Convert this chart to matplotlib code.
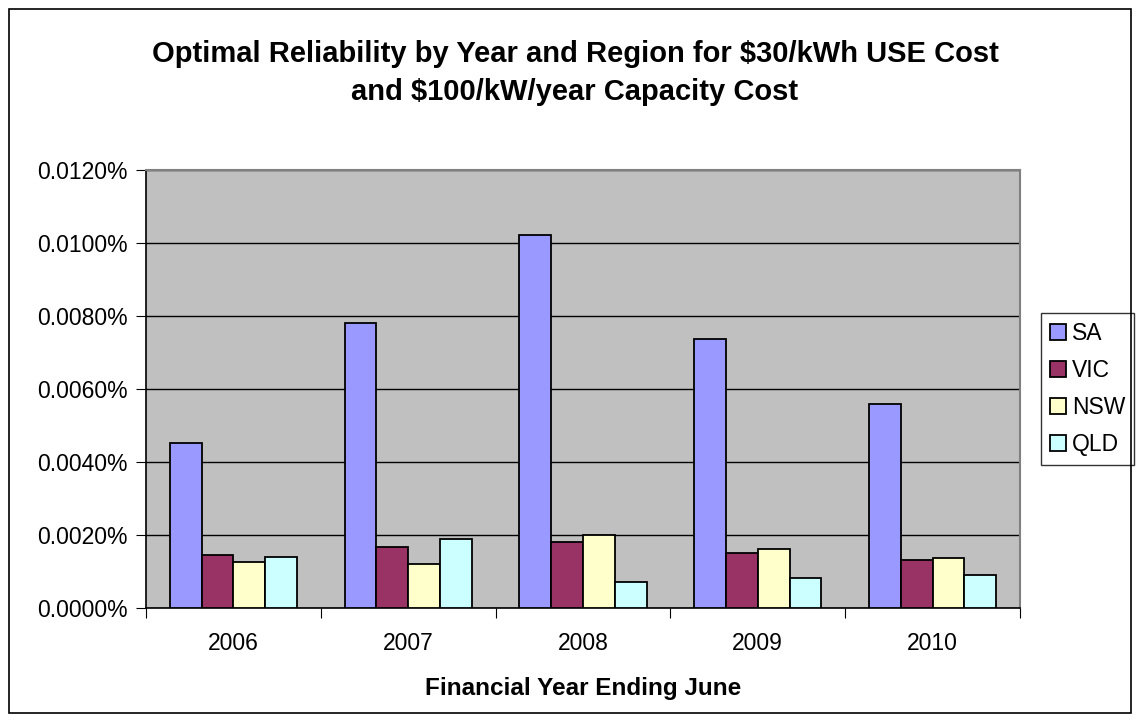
import numpy as np
import matplotlib
matplotlib.use("Agg")
import matplotlib.pyplot as plt
from matplotlib.patches import Rectangle
from matplotlib.ticker import FuncFormatter

plt.rcParams['font.family'] = ['Liberation Sans', 'DejaVu Sans']

years = ['2006', '2007', '2008', '2009', '2010']
regions = ['SA', 'VIC', 'NSW', 'QLD']
# values in percent
sa = [0.00451, 0.00782, 0.01021, 0.00737, 0.00558]
vic = [0.00146, 0.00167, 0.00181, 0.00151, 0.00131]
nsw = [0.00126, 0.00120, 0.00201, 0.00162, 0.00137]
qld = [0.00141, 0.00188, 0.00070, 0.00081, 0.00091]
colors = ['#9999FF', '#993366', '#FFFFCC', '#CCFFFF']

fig = plt.figure(figsize=(11.4, 7.22), dpi=100)
ax = fig.add_axes([146 / 1140, 1 - 608 / 722, (1020 - 146) / 1140, (608 - 170) / 722])
ax.set_facecolor('#C0C0C0')

x = np.arange(len(years))
w = 1 / 5.5
for i, (vals, name) in enumerate(zip([sa, vic, nsw, qld], regions)):
    ax.bar(x + (i - 1.5) * w, vals, width=w, color=colors[i], edgecolor='black',
           linewidth=1.3, label=name, zorder=3)

ax.set_ylim(0, 0.012)
ax.set_yticks(np.arange(0, 0.0121, 0.002))
ax.yaxis.set_major_formatter(FuncFormatter(lambda v, p: '%.4f%%' % v))
ax.grid(axis='y', color='black', linewidth=1, zorder=1)
ax.set_axisbelow(True)

ax.set_xlim(-0.5, 4.5)
ax.set_xticks(np.arange(-0.5, 4.6, 1))
ax.set_xticklabels([])
ax.set_xticks(x, minor=True)
ax.set_xticklabels(years, minor=True)
ax.tick_params(axis='x', which='minor', length=0, pad=17, labelsize=16.5)
ax.tick_params(axis='x', which='major', length=7, direction='out', color='black')
ax.tick_params(axis='y', length=7, direction='out', labelsize=16.5, pad=6)

for s in ['top', 'right']:
    ax.spines[s].set_color('#808080')
    ax.spines[s].set_linewidth(1.5)
for s in ['left', 'bottom']:
    ax.spines[s].set_color('black')
    ax.spines[s].set_linewidth(1.2)

ax.set_xlabel('Financial Year Ending June', fontsize=17.5, fontweight='bold', labelpad=16)

fig.text(575 / 1140, 1 - 73 / 722,
         'Optimal Reliability by Year and Region for $30/kWh USE Cost\nand $100/kW/year Capacity Cost',
         ha='center', va='center', fontsize=21, fontweight='bold', linespacing=1.5)

leg = ax.legend(loc='center left', bbox_to_anchor=(1041 / 1140, 1 - 389 / 722),
                bbox_transform=fig.transFigure, fontsize=16.5, frameon=True, fancybox=False,
                handlelength=0.7, handleheight=0.7, handletextpad=0.25, labelspacing=0.6,
                borderpad=0.4, borderaxespad=0)
leg.get_frame().set_edgecolor('black')
leg.get_frame().set_linewidth(1)

fig.patches.append(Rectangle((9 / 1140, 9 / 722), 1 - 18 / 1140, 1 - 18 / 722,
                             transform=fig.transFigure, fill=False, edgecolor='black',
                             linewidth=1.2))

fig.savefig('out.png', dpi=100)
